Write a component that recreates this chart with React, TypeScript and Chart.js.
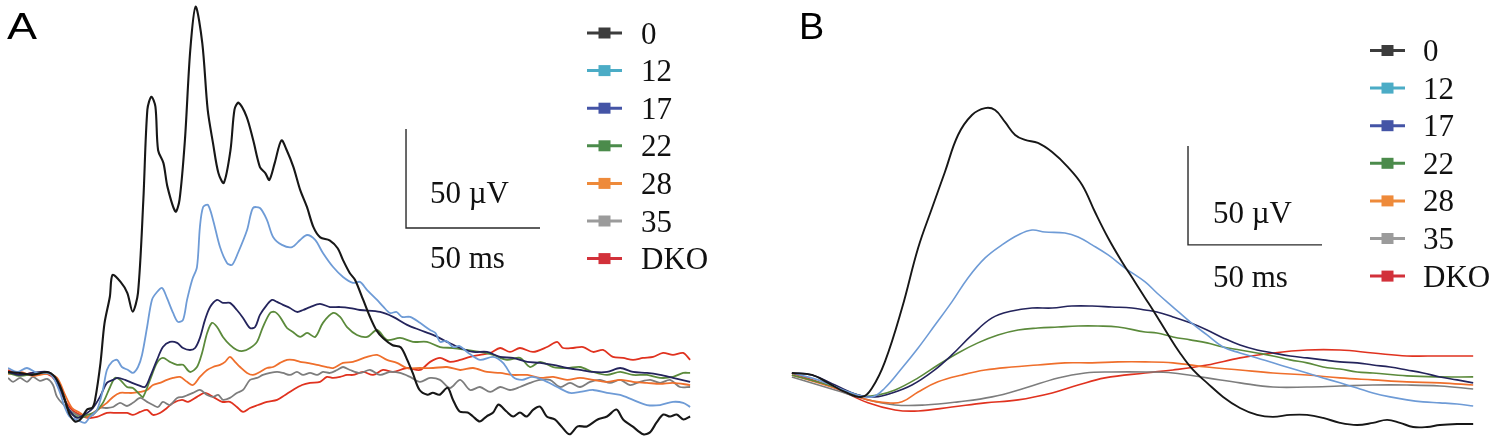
import { useEffect, useRef } from "react";
import { Chart, registerables } from "chart.js";
Chart.register(...registerables);

// every point is [time in ms, amplitude in µV]
type Pt = [number, number];

const seriesNames = ["0", "12", "17", "22", "28", "35", "DKO"];
const traceColors = ["#171717", "#6e9bd6", "#24245c", "#5b8a3b", "#ef6f2c", "#7d7d7d", "#e0321f"];
const legendColors = ["#3c3c3c", "#4bacc6", "#4454a6", "#4b8b4b", "#ee8a3a", "#9b9b9b", "#d2313a"];

// ---- panel A (noisy traces) ----
const a0: Pt[] = [[0,1.5],[4.5,1],[9,0],[14.5,1.5],[17.5,-1],[20,-7.5],[22,-16],[23,-20],[25,-23.5],[27,-22.5],[29.5,-17.5],[31.5,-16.5],[32.5,-12.5],[34.5,6],[36,26],[38,39.5],[39,50.5],[42,47],[44.5,41.5],[46.5,32],[48.5,41.5],[50.5,88.5],[52,134],[53.5,140.5],[55,135.5],[56,113.5],[58,107],[59.5,95],[62.5,82.5],[64,88.5],[66,118.5],[68,164],[70,186],[72.5,167.5],[74.5,134],[76.5,117],[78.5,102],[80.5,97],[83,113.5],[84.5,134],[86,137.5],[89,130.5],[91.5,118.5],[94,105],[96,102],[97.5,98.5],[99.5,107],[102,118.5],[104,113.5],[106.5,105],[109,93.5],[111.5,85],[114,74.5],[116.5,69.5],[120,68],[123,64],[125,58],[127.5,51.5],[129.5,48],[132.5,38],[135,29.5],[137.5,22.5],[140,18.5],[143.5,15],[146.5,14],[149,7.5],[151,1],[153.5,-7.5],[156.5,-10],[158.5,-9],[161,-10],[164,-6.5],[166,-12.5],[168.5,-18.5],[171.5,-19],[173.5,-21],[176,-23.5],[178.5,-21],[181,-19],[183,-15],[186,-18.5],[188.5,-21],[191,-19],[193.5,-21],[196,-17.5],[198.5,-16],[201,-21],[204,-22.5],[206.5,-26],[209.5,-30],[212.5,-26],[216,-26],[220,-22.5],[223.5,-21],[227,-17.5],[229.5,-22.5],[233,-26],[237,-30],[239.5,-29],[242,-24],[244.5,-20],[247,-21],[249.5,-20],[252,-22.5],[254.5,-21]];
const a12: Pt[] = [[0,3.5],[3.4,1.5],[7.1,3.5],[10.8,1],[14.6,1],[16.8,-1],[19.4,-9],[21.3,-16.7],[23.1,-21.2],[25.7,-22.7],[28.7,-24.2],[30.6,-21.2],[33.2,-17.7],[35.4,-7.6],[36.9,2.5],[38.8,6.6],[40.7,7.6],[42.5,4],[44.8,2.5],[46.6,1],[48.5,4],[50,10.1],[51.9,24.2],[53.7,37.9],[55.6,41.9],[57.5,43.9],[59.3,38.9],[61.6,31.3],[63.4,26.8],[65.3,27.8],[66.8,37.9],[68.7,48],[70.5,54.5],[71.6,74.7],[72.8,84.8],[74.6,85.9],[76.5,78.3],[79.1,64.6],[81.7,56.6],[83.6,55.6],[85.8,61.6],[89.2,73.2],[91.4,84.3],[94,84.3],[96.6,78.3],[98.9,69.7],[102.2,65.7],[106,64.6],[109,68.2],[111.6,70.7],[114.6,68.2],[117.5,61.6],[121.3,54.5],[125,49.5],[128.7,46.5],[131.3,47],[134,42.9],[137.7,37.9],[140,34.5],[142.5,31.3],[145,31.8],[147,29.3],[150,29.3],[153.7,26.3],[157.5,22.7],[159.5,21.2],[161.2,16.7],[163.5,17.2],[166,14.1],[168.5,14.6],[171.3,11.6],[176.1,7.6],[181,9.1],[184.7,6.1],[188.4,-1],[191.8,-2.5],[195.5,-1],[199.6,-2.5],[204.9,-6.1],[209.7,-9.1],[213.4,-8.6],[218.3,-7.6],[223.5,-9.1],[228.4,-10.1],[233.2,-12.6],[238.4,-15.2],[243.3,-15.2],[248.1,-13.6],[251.9,-14.1],[254.5,-16.2]];
const a17: Pt[] = [[0,1.5],[4.5,0],[9.3,1],[14.6,1.5],[17.5,-1.5],[20.1,-9.1],[22.4,-16.7],[25.7,-21.7],[29.5,-19.2],[31.7,-16.7],[34.3,-11.1],[36.9,-4],[39.2,-2.5],[41,-1.5],[43.7,-2.5],[46.3,-4],[48.5,-5.1],[51.1,-6.1],[53,-1],[55.6,7.6],[57.8,14.1],[60.4,16.7],[63.1,16.2],[65.3,13.6],[67.9,12.6],[69.8,13.6],[71.6,18.7],[73.5,27.8],[75.4,34.3],[78,37.9],[80.2,36.4],[82.8,36.4],[85.4,32.8],[87.7,28.8],[90.3,23.7],[92.2,24.2],[94,30.3],[96.6,35.4],[98.5,37.9],[100.4,36.9],[102.6,35.4],[105.2,33.8],[107.8,31.8],[110.1,32.8],[112.7,34.3],[116.4,35.9],[120.1,34.3],[123.9,34.3],[127.6,33.8],[131.3,32.8],[138.8,31.8],[143.7,29.3],[148.9,25.3],[153.7,22.7],[158.6,20.2],[163.8,16.7],[168.7,13.6],[173.5,11.6],[178.7,11.6],[183.6,9.1],[188.4,8.6],[193.7,6.6],[198.5,6.1],[203.4,5.1],[208.6,3.5],[213.4,2.5],[218.3,1.5],[223.5,1.5],[228.4,3.5],[233.2,1.5],[238.4,1],[243.3,0],[248.1,-1.5],[254.5,-3.5]];
const a22: Pt[] = [[0,1],[4.5,-0.5],[9.3,0.5],[14.6,1],[17.5,-1.5],[20.5,-10.1],[23.1,-18.7],[26.9,-21.7],[29.5,-20.2],[32.5,-18.7],[35.4,-14.1],[38.1,-6.1],[39.9,-1.5],[41.8,-2.5],[44.4,-6.1],[46.6,-6.6],[49.3,-10.1],[50.4,-11.1],[53,-2.5],[55.6,6.1],[57.8,8.6],[60.4,6.6],[63.1,5.1],[65.3,5.1],[67.9,1.5],[70.5,4],[72.4,11.1],[74.3,21.2],[76.1,26.3],[78,24.2],[80.2,19.2],[82.8,15.2],[85.4,12.6],[87.7,12.1],[90.3,13.6],[92.9,16.7],[95.1,24.2],[97.8,31.3],[99.6,31.8],[101.5,29.3],[104.1,23.7],[106.3,21.7],[109,19.2],[111.6,21.2],[114.6,19.2],[117.5,26.3],[121.3,31.3],[123.9,29.3],[126.5,24.2],[130.2,20.2],[134,19.2],[137.7,22.7],[141.4,17.7],[146.3,18.7],[151.1,16.7],[156.3,16.7],[161.2,14.1],[166,13.6],[171.3,12.6],[176.1,11.6],[181,10.1],[186.2,7.6],[191,8.6],[194.8,4],[198.5,6.6],[203.4,4],[208.6,3.5],[213.4,4],[218.3,1.5],[223.5,0],[228.4,1.5],[233.2,0],[238.4,0],[243.3,-1.5],[248.1,-1],[251.9,1],[254.5,1]];
const a28: Pt[] = [[0,0.5],[4.5,1.5],[9.3,-0.5],[14.6,0.5],[18.3,-1.5],[21.3,-10.1],[23.9,-16.7],[26.9,-19.2],[29.5,-21.2],[31.7,-19.2],[34.3,-16.7],[36.9,-14.1],[39.2,-11.1],[41.8,-9.1],[44.4,-9.1],[46.6,-9.1],[49.3,-8.6],[51.9,-7.6],[54.1,-5.1],[56.7,-4],[59.3,-2.5],[61.6,-1.5],[64.2,-1],[66.8,-3.5],[69,-5.1],[71.6,-1],[74.3,2.5],[76.5,4],[79.1,5.1],[81,6.6],[82.8,9.1],[84.7,6.6],[86.6,4],[89.2,1],[91.4,0],[94,1.5],[96.6,3.5],[98.9,4],[101.5,6.1],[104.1,7.6],[106.3,7.6],[109,6.6],[111.6,6.1],[115.3,5.1],[119,4],[121.3,3.5],[125,6.1],[128.7,6.6],[134,9.1],[137.7,10.1],[141.4,7.6],[145.1,6.1],[148.9,3.5],[153.7,3.5],[158.6,3.5],[163.8,4],[168.7,2.5],[173.5,3.5],[178.7,1.5],[183.6,1],[188.4,0],[193.7,0],[198.5,-1.5],[203.4,-1],[208.6,-2.5],[213.4,-1.5],[218.3,-2.5],[223.5,-3.5],[228.4,-2.5],[233.2,-3.5],[238.4,-4],[243.3,-4.5],[248.1,-4],[254.5,-5.1]];
const a35: Pt[] = [[0,-1.5],[1.9,-3.5],[4.5,-1.5],[7.1,-3.5],[9.3,-1],[11.9,-3],[14.6,-2],[16.8,-5.1],[18.3,-11.1],[22,-16.7],[25.7,-20.2],[29.5,-21.2],[31.7,-20.2],[34.3,-16.7],[36.9,-16.7],[39.2,-16.2],[41.8,-14.1],[44.4,-15.7],[46.6,-14.1],[49.3,-11.6],[51.9,-13.6],[54.1,-15.2],[56,-16.2],[57.8,-13.6],[60.4,-15.2],[63.1,-11.6],[65.3,-11.1],[67.2,-10.1],[69,-9.1],[71.6,-7.6],[74.3,-10.1],[76.5,-11.1],[78.4,-10.1],[80.2,-12.6],[82.8,-11.6],[85.4,-9.1],[87.7,-7.6],[90.3,-2.5],[92.9,-1.5],[95.1,0],[97.8,1],[100.4,1.5],[102.6,1],[105.2,0],[107.8,1.5],[110.1,0],[112.7,1],[115.3,0],[117.5,1.5],[120.1,1],[122.8,2.5],[125,4],[127.6,2.5],[131.3,1],[135.1,2.5],[138.8,0],[142.5,1.5],[146.3,1],[150,-1],[153.7,-3.5],[157.5,-1.5],[161.2,-2.5],[164.9,-6.6],[168.7,-2.5],[172.4,-7.6],[176.1,-6.1],[179.9,-8.6],[183.6,-6.1],[187.3,-7.6],[191,-6.1],[194.8,-4],[198.5,-2.5],[202.2,-2.5],[206,-6.1],[209.7,-4],[213.4,-6.1],[217.2,-3.5],[220.9,-2.5],[224.6,-4],[228.4,-2.5],[232.1,-5.1],[235.8,-3.5],[239.6,-2.5],[243.3,-4],[247,-2.5],[250.7,-6.1],[254.5,-6.1]];
const aDKO: Pt[] = [[0,2.5],[4.5,0],[9.3,1],[14.6,0.5],[17.5,-2.5],[20.5,-11.1],[23.9,-17.7],[26.9,-20.2],[29.9,-21.7],[33.2,-21.2],[36.9,-19.2],[40.7,-19.2],[44.4,-19.2],[46.6,-20.2],[49.3,-18.7],[51.9,-17.7],[54.1,-20.2],[56.7,-19.2],[59.3,-16.7],[61.6,-14.1],[64.9,-12.6],[67.2,-13.6],[70.5,-11.1],[73.5,-9.1],[76.5,-11.1],[79.9,-13.6],[82.8,-13.6],[85.4,-16.2],[87.7,-18.7],[90.3,-16.7],[93.3,-15.2],[96.6,-13.6],[100.4,-12.6],[103.4,-10.1],[106.3,-7.6],[109.7,-5.1],[112.7,-4],[116.4,-3.5],[119,-1],[121.3,-1.5],[123.9,-1],[126.5,0],[128.7,0],[132.5,1.5],[136.2,0],[139.9,2.5],[143.7,1.5],[148.9,3.5],[153.7,2.5],[157.5,6.6],[161.2,8.6],[164.9,6.6],[168.7,7.6],[172.4,9.1],[176.1,10.1],[179.9,11.1],[183.6,13.6],[187.3,11.6],[191,13.6],[195.9,11.6],[201.1,14.1],[204.9,16.7],[207.1,13.6],[210.8,13.6],[214.6,14.1],[218.3,11.6],[222,12.6],[225.7,9.1],[229.5,8.6],[233.2,7.6],[236.9,8.6],[240.7,9.1],[244.4,11.1],[248.1,10.1],[251.9,11.1],[254.5,7.6]];

// ---- panel B (averaged traces) ----
const b0: Pt[] = [[0.7,0.5],[8.2,-0.5],[14.2,-4.5],[20.5,-9.1],[26.9,-11.6],[30.6,-7.1],[35.4,6.1],[41.8,33.3],[47.8,63.6],[53,83.8],[57.8,102],[62.7,120.7],[67.9,130.8],[72.8,134.3],[76.5,133.3],[80.2,127.3],[84,120.7],[87.7,118.2],[92.5,116.7],[97.8,112.1],[103.7,104.5],[109,95.5],[113.8,81.8],[118.7,68.7],[123.9,56.6],[128.7,46.5],[132.5,38.4],[135.4,32.3],[140.7,20.7],[145.5,10.6],[150.4,2],[155.6,-4.5],[161.6,-11.6],[167.9,-17.2],[174.3,-20.7],[180.2,-21.7],[186.6,-20.7],[192.9,-20.7],[198.9,-22.2],[205.2,-24.7],[211.6,-25.8],[217.5,-24.7],[222.8,-23.2],[227.6,-24.7],[232.5,-26.8],[237.7,-26.8],[242.5,-25.8],[248.9,-25.3],[254.9,-25.3]];
const b12: Pt[] = [[0.7,0.5],[10.4,-3],[23.1,-9.6],[30.6,-11.6],[35.4,-7.1],[41.8,3],[47.8,13.1],[54.1,24.7],[60.4,36.4],[66.4,48.5],[72.8,58.6],[79.1,65.2],[85.1,70.2],[90.3,72.7],[95.1,71.7],[102.6,71.2],[107.5,69.2],[112.7,65.2],[118.7,60.1],[125,53.5],[132.5,46.5],[136.9,40.9],[142.9,33.8],[149.3,26.3],[155.6,19.7],[161.6,13.6],[167.9,10.6],[174.3,8.1],[180.2,5.6],[186.6,3],[192.9,0.5],[198.9,-2],[205.2,-4.5],[211.6,-7.1],[217.5,-9.6],[223.9,-11.6],[230.2,-13.1],[236.2,-14.1],[242.5,-14.6],[248.9,-15.2],[254.9,-16.2]];
const b17: Pt[] = [[0.7,0.5],[8.2,-0.5],[16.8,-5.6],[25.4,-10.6],[31.7,-11.6],[38.1,-9.6],[45.5,-5.6],[53,1],[60.4,9.6],[67.9,19.7],[75.4,28.3],[82.8,31.8],[90.3,33.3],[97.8,33.3],[105.2,34.3],[112.7,34.3],[120.1,33.8],[127.6,33.3],[132.5,32.3],[136.9,31.3],[142.9,28.8],[149.3,25.8],[155.6,22.2],[161.6,18.2],[167.9,14.6],[174.3,12.1],[180.2,10.6],[186.6,9.1],[192.9,8.1],[198.9,7.1],[205.2,6.1],[211.6,5.6],[217.5,4.5],[223.9,3.5],[230.2,2],[236.2,0.5],[242.5,-1.5],[248.9,-3],[254.9,-4.5]];
const b22: Pt[] = [[0.7,-0.5],[16.8,-6.6],[26.9,-11.1],[32.8,-10.6],[39.2,-8.1],[47.8,-2],[55.2,4.5],[62.7,10.6],[70.1,15.7],[77.6,19.7],[85.1,22.2],[92.5,23.2],[100,23.7],[107.5,24.2],[114.9,24.2],[122.4,23.7],[132.5,21.2],[136.9,20.7],[142.9,18.7],[149.3,17.2],[155.6,15.7],[161.6,13.6],[167.9,12.1],[174.3,10.6],[180.2,9.1],[186.6,7.1],[192.9,5.6],[198.9,3.5],[205.2,2.5],[211.6,1],[217.5,0.5],[230.2,-1],[242.5,-1.5],[254.9,-1.5]];
const b28: Pt[] = [[0.7,-0.5],[16.8,-7.1],[29.1,-13.1],[36.6,-14.6],[41.8,-14.1],[47.8,-9.1],[55.2,-4],[64.2,-0.5],[72.8,2],[82.8,3.5],[92.5,4.5],[102.6,5.6],[112.7,5.6],[122.4,6.1],[132.5,6.1],[142.9,5.6],[155.6,3.5],[167.9,2],[180.2,0.5],[192.9,-0.5],[205.2,-2],[217.5,-3],[230.2,-4],[242.5,-4.5],[254.9,-5.6]];
const b35: Pt[] = [[0.7,-1.5],[16.8,-8.1],[29.1,-13.1],[39.2,-15.7],[50.4,-15.7],[62.7,-14.1],[75.4,-11.6],[87.7,-7.1],[100,-2],[110.1,0.5],[120.1,1],[132.5,1],[142.9,0.5],[155.6,-2],[167.9,-4.5],[180.2,-6.6],[192.9,-6.6],[205.2,-6.1],[217.5,-5.6],[230.2,-5.6],[242.5,-6.1],[254.9,-7.6]];
const bDKO: Pt[] = [[0.7,0.5],[16.8,-7.1],[29.1,-14.6],[39.2,-18.2],[47.8,-18.7],[60.4,-16.7],[72.8,-14.6],[85.1,-13.1],[97.8,-9.6],[107.5,-5.6],[117.5,-2],[132.5,0.5],[142.9,2],[155.6,4.5],[167.9,8.1],[180.2,10.6],[192.9,12.1],[205.2,12.1],[217.5,10.6],[230.2,9.1],[242.5,9.1],[254.9,9.1]];

// 50 µV / 50 ms scale bars
const scaleBarA: Pt[] = [[148.5, 124.2], [148.5, 74.2], [198.5, 74.2]];
const scaleBarB: Pt[] = [[148.5, 115.2], [148.5, 65.2], [198.5, 65.2]];

const tracesA = [a0, a12, a17, a22, a28, a35, aDKO];
const tracesB = [b0, b12, b17, b22, b28, b35, bDKO];

type PanelCfg = {
  letter: string;
  letterStretch: number;
  left: number;
  width: number;
  padLeft: number;
  padRight: number;
  xMax: number;
  yMin: number;
  yMax: number;
  traces: Pt[][];
  bar: Pt[];
  tension: number;
  lineWidth: number;
  letterX: number;
  barTextX: number;
  uvY: number;
  msY: number;
  legendX: number;
  legendTextX: number;
  legendY: number;
};

const H = 446;

function Panel({ cfg }: { cfg: PanelCfg }) {
  const ref = useRef<HTMLCanvasElement | null>(null);

  useEffect(() => {
    if (!ref.current) return;
    const toXY = (p: Pt[]) => p.map(([x, y]) => ({ x, y }));

    const overlay = {
      id: "overlay",
      afterDraw(chart: Chart) {
        const ctx = chart.ctx;
        ctx.save();
        ctx.fillStyle = "#000";
        ctx.font = '36px "Liberation Sans"';
        ctx.save();
        ctx.translate(cfg.letterX, 39);
        ctx.scale(cfg.letterStretch, 1);
        ctx.fillText(cfg.letter, 0, 0);
        ctx.restore();

        ctx.font = '31px "Liberation Serif"';
        ctx.fillStyle = "#111";
        ctx.fillText("50 µV", cfg.barTextX, cfg.uvY);
        ctx.fillText("50 ms", cfg.barTextX, cfg.msY);

        seriesNames.forEach((name, i) => {
          const y = cfg.legendY + i * 37.6;
          ctx.strokeStyle = legendColors[i];
          ctx.lineWidth = 3;
          ctx.beginPath();
          ctx.moveTo(cfg.legendX, y);
          ctx.lineTo(cfg.legendX + 35, y);
          ctx.stroke();
          ctx.fillStyle = legendColors[i];
          ctx.fillRect(cfg.legendX + 11.5, y - 5.5, 12, 11);
          ctx.fillStyle = "#111";
          ctx.fillText(name, cfg.legendTextX, y + 10.5);
        });
        ctx.restore();
      }
    };

    const datasets: any[] = cfg.traces.map((t, i) => ({
      label: seriesNames[i],
      data: toXY(t),
      borderColor: traceColors[i],
      borderWidth: i === 0 ? cfg.lineWidth + 0.3 : cfg.lineWidth,
      pointRadius: 0,
      tension: cfg.tension,
      fill: false
    }));
    datasets.push({
      label: "bar",
      data: toXY(cfg.bar),
      borderColor: "#2a2a2a",
      borderWidth: 1.4,
      pointRadius: 0,
      tension: 0,
      fill: false
    });

    const chart = new Chart(ref.current, {
      type: "line",
      data: { datasets },
      options: {
        responsive: false,
        animation: false,
        events: [],
        layout: { padding: { left: cfg.padLeft, right: cfg.padRight, top: 0, bottom: 0 } },
        plugins: { legend: { display: false }, tooltip: { enabled: false } },
        scales: {
          x: { type: "linear", display: false, min: 0, max: cfg.xMax },
          y: { type: "linear", display: false, min: cfg.yMin, max: cfg.yMax }
        }
      },
      plugins: [overlay]
    });

    return () => chart.destroy();
  }, [cfg]);

  return (
    <canvas
      ref={ref}
      width={cfg.width}
      height={H}
      style={{ position: "absolute", left: cfg.left, top: 0, width: cfg.width, height: H }}
    />
  );
}

const panelA: PanelCfg = {
  letter: "A",
  letterStretch: 1.25,
  left: 0,
  width: 760,
  padLeft: 8,
  padRight: 68,
  xMax: 255.2,
  yMin: -35.9,
  yMax: 189.4,
  traces: tracesA,
  bar: scaleBarA,
  tension: 0.3,
  lineWidth: 1.8,
  letterX: 7,
  barTextX: 430,
  uvY: 203,
  msY: 268,
  legendX: 587,
  legendTextX: 641,
  legendY: 33
};

const panelB: PanelCfg = {
  letter: "B",
  letterStretch: 1.05,
  left: 760,
  width: 740,
  padLeft: 30,
  padRight: 22,
  xMax: 256.7,
  yMin: -36.4,
  yMax: 188.9,
  traces: tracesB,
  bar: scaleBarB,
  tension: 0.4,
  lineWidth: 1.6,
  letterX: 39,
  barTextX: 453,
  uvY: 223,
  msY: 287,
  legendX: 610,
  legendTextX: 663,
  legendY: 50.5
};

export default function App() {
  return (
    <div style={{ position: "absolute", left: 0, top: 0, width: 1500, height: H, background: "#fff" }}>
      <Panel cfg={panelA} />
      <Panel cfg={panelB} />
    </div>
  );
}
